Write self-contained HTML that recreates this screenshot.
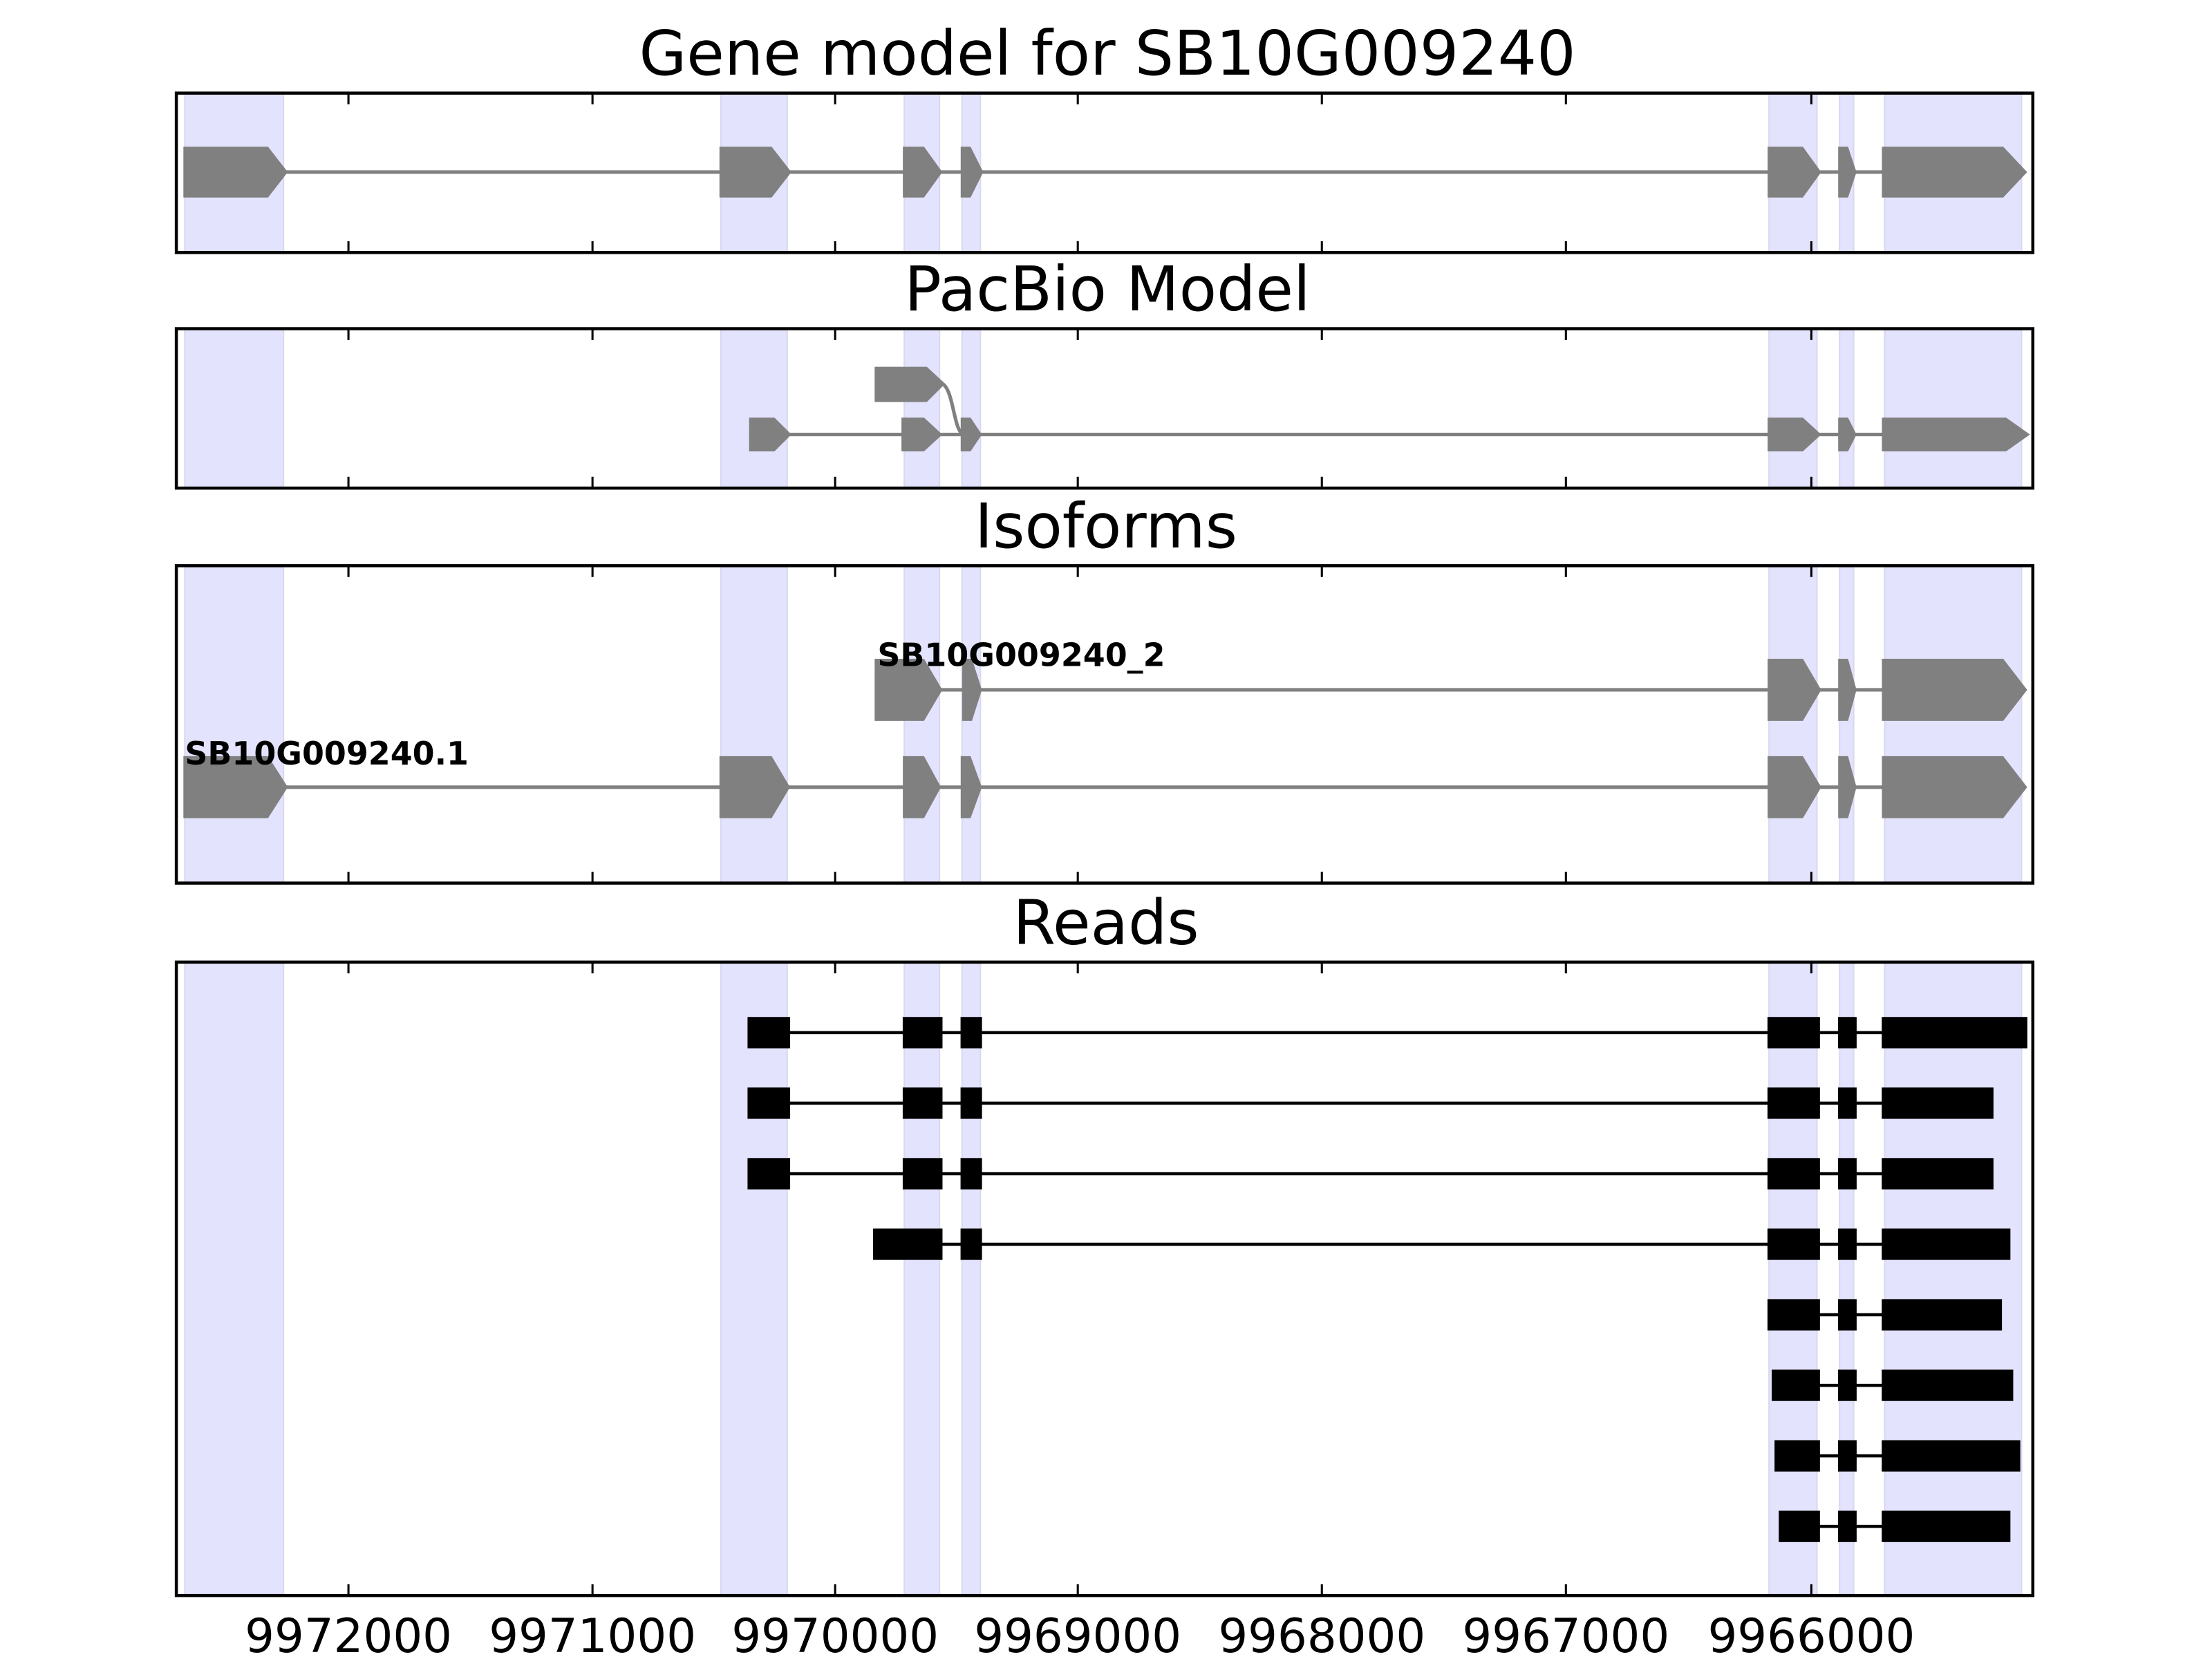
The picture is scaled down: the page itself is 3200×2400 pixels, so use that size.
<!DOCTYPE html>
<html><head><meta charset="utf-8"><style>html,body{margin:0;padding:0;background:#fff;overflow:hidden;width:3200px;height:2400px}svg{display:block}</style></head>
<body>
<svg width="3200" height="2400" viewBox="0 0 1568 1176" xmlns="http://www.w3.org/2000/svg" font-family="'DejaVu Sans','Liberation Sans',sans-serif">
<defs>
<g id="bands">
<rect x="131" width="70" height="1000" fill="#e3e3fd" stroke="#d8d8f0" stroke-width="1"/>
<rect x="511" width="47" height="1000" fill="#e3e3fd" stroke="#d8d8f0" stroke-width="1"/>
<rect x="641" width="25" height="1000" fill="#e3e3fd" stroke="#d8d8f0" stroke-width="1"/>
<rect x="682" width="13" height="1000" fill="#e3e3fd" stroke="#d8d8f0" stroke-width="1"/>
<rect x="1254" width="34" height="1000" fill="#e3e3fd" stroke="#d8d8f0" stroke-width="1"/>
<rect x="1304" width="10" height="1000" fill="#e3e3fd" stroke="#d8d8f0" stroke-width="1"/>
<rect x="1336" width="97" height="1000" fill="#e3e3fd" stroke="#d8d8f0" stroke-width="1"/>
</g>
<clipPath id="c1"><rect x="125" y="66" width="1316" height="113"/></clipPath>
<clipPath id="c2"><rect x="125" y="233" width="1316" height="113"/></clipPath>
<clipPath id="c3"><rect x="125" y="401" width="1316" height="225"/></clipPath>
<clipPath id="c4"><rect x="125" y="682" width="1316" height="449"/></clipPath>
</defs>
<g font-size="43.5" text-anchor="middle">
<text x="785" y="53">Gene model for SB10G009240</text>
<text x="785" y="220">PacBio Model</text>
<text x="784" y="388">Isoforms</text>
<text x="784" y="669">Reads</text>
</g>
<g clip-path="url(#c1)"><use href="#bands" y="60"/></g>
<g clip-path="url(#c2)"><use href="#bands" y="220"/></g>
<g clip-path="url(#c3)"><use href="#bands" y="390"/></g>
<g clip-path="url(#c4)"><use href="#bands" y="670"/></g>

<g fill="#808080" stroke="none">
<line x1="200" y1="122" x2="1340" y2="122" stroke="#808080" stroke-width="2.5"/>
<polygon points="130,104 190,104 204,122 190,140 130,140"/>
<polygon points="510,104 547,104 561,122 547,140 510,140"/>
<polygon points="640,104 655,104 668,122 655,140 640,140"/>
<polygon points="681,104 688,104 697,122 688,140 681,140"/>
<polygon points="1253,104 1278,104 1291,122 1278,140 1253,140"/>
<polygon points="1303,104 1310,104 1316,122 1310,140 1303,140"/>
<polygon points="1334,104 1420,104 1437,122 1420,140 1334,140"/>
</g>
<g fill="#808080">
<line x1="558" y1="308" x2="1340" y2="308" stroke="#808080" stroke-width="2.5"/>
<path d="M668,272 C676,276 676,306 683,308" fill="none" stroke="#808080" stroke-width="2.5"/>
<polygon points="620,260 657,260 670,272 657,285 620,285"/>
<polygon points="531,296 549,296 561,308 549,320 531,320"/>
<polygon points="639,296 655,296 668,308 655,320 639,320"/>
<polygon points="681,296 688,296 696,308 688,320 681,320"/>
<polygon points="1253,296 1278,296 1291,308 1278,320 1253,320"/>
<polygon points="1303,296 1310,296 1316,308 1310,320 1303,320"/>
<polygon points="1334,296 1422,296 1439,308 1422,320 1334,320"/>
</g>
<g fill="#808080">
<line x1="660" y1="489" x2="1340" y2="489" stroke="#808080" stroke-width="2.5"/>
<polygon points="620,467 655,467 668,489 655,511 620,511"/>
<polygon points="682,467 689,467 696,489 689,511 682,511"/>
<polygon points="1253,467 1278,467 1291,489 1278,511 1253,511"/>
<polygon points="1303,467 1310,467 1316,489 1310,511 1303,511"/>
<polygon points="1334,467 1420,467 1437,489 1420,511 1334,511"/>
<line x1="200" y1="558" x2="1340" y2="558" stroke="#808080" stroke-width="2.5"/>
<polygon points="130,536 190,536 204,558 190,580 130,580"/>
<polygon points="510,536 547,536 560,558 547,580 510,580"/>
<polygon points="640,536 655,536 667,558 655,580 640,580"/>
<polygon points="681,536 688,536 696,558 688,580 681,580"/>
<polygon points="1253,536 1278,536 1291,558 1278,580 1253,580"/>
<polygon points="1303,536 1310,536 1316,558 1310,580 1303,580"/>
<polygon points="1334,536 1420,536 1437,558 1420,580 1334,580"/>
</g>
<g font-size="22.5" font-weight="bold">
<text x="622" y="472">SB10G009240_2</text>
<text x="131" y="542">SB10G009240.1</text>
</g>
<g fill="#000" stroke="#000" stroke-width="2.2">
<g transform="translate(0,732)"><line x1="545" y1="0" x2="1340" y2="0"/><rect x="531" y="-10" width="28" height="20"/><rect x="641" y="-10" width="26" height="20"/><rect x="682" y="-10" width="13" height="20"/><rect x="1254" y="-10" width="35" height="20"/><rect x="1304" y="-10" width="11" height="20"/><rect x="1335" y="-10" width="101" height="20"/></g>
<g transform="translate(0,782)"><line x1="545" y1="0" x2="1340" y2="0"/><rect x="531" y="-10" width="28" height="20"/><rect x="641" y="-10" width="26" height="20"/><rect x="682" y="-10" width="13" height="20"/><rect x="1254" y="-10" width="35" height="20"/><rect x="1304" y="-10" width="11" height="20"/><rect x="1335" y="-10" width="77" height="20"/></g>
<g transform="translate(0,832)"><line x1="545" y1="0" x2="1340" y2="0"/><rect x="531" y="-10" width="28" height="20"/><rect x="641" y="-10" width="26" height="20"/><rect x="682" y="-10" width="13" height="20"/><rect x="1254" y="-10" width="35" height="20"/><rect x="1304" y="-10" width="11" height="20"/><rect x="1335" y="-10" width="77" height="20"/></g>
<g transform="translate(0,882)"><line x1="640" y1="0" x2="1340" y2="0"/><rect x="620" y="-10" width="47" height="20"/><rect x="682" y="-10" width="13" height="20"/><rect x="1254" y="-10" width="35" height="20"/><rect x="1304" y="-10" width="11" height="20"/><rect x="1335" y="-10" width="89" height="20"/></g>
<g transform="translate(0,932)"><line x1="1260" y1="0" x2="1340" y2="0"/><rect x="1254" y="-10" width="35" height="20"/><rect x="1304" y="-10" width="11" height="20"/><rect x="1335" y="-10" width="83" height="20"/></g>
<g transform="translate(0,982)"><line x1="1260" y1="0" x2="1340" y2="0"/><rect x="1257" y="-10" width="32" height="20"/><rect x="1304" y="-10" width="11" height="20"/><rect x="1335" y="-10" width="91" height="20"/></g>
<g transform="translate(0,1032)"><line x1="1260" y1="0" x2="1340" y2="0"/><rect x="1259" y="-10" width="30" height="20"/><rect x="1304" y="-10" width="11" height="20"/><rect x="1335" y="-10" width="96" height="20"/></g>
<g transform="translate(0,1082)"><line x1="1265" y1="0" x2="1340" y2="0"/><rect x="1262" y="-10" width="27" height="20"/><rect x="1304" y="-10" width="11" height="20"/><rect x="1335" y="-10" width="89" height="20"/></g>
</g>
<g fill="none" stroke="#000" stroke-width="2.2">
<rect x="125" y="66" width="1316" height="113"/>
<rect x="125" y="233" width="1316" height="113"/>
<rect x="125" y="401" width="1316" height="225"/>
<rect x="125" y="682" width="1316" height="449"/>
</g>
<g stroke="#000" stroke-width="1.5">
<path d="M247,66v8M420,66v8M592,66v8M764,66v8M937,66v8M1110,66v8M1284,66v8
M247,179v-8M420,179v-8M592,179v-8M764,179v-8M937,179v-8M1110,179v-8M1284,179v-8
M247,233v8M420,233v8M592,233v8M764,233v8M937,233v8M1110,233v8M1284,233v8
M247,346v-8M420,346v-8M592,346v-8M764,346v-8M937,346v-8M1110,346v-8M1284,346v-8
M247,401v8M420,401v8M592,401v8M764,401v8M937,401v8M1110,401v8M1284,401v8
M247,626v-8M420,626v-8M592,626v-8M764,626v-8M937,626v-8M1110,626v-8M1284,626v-8
M247,682v8M420,682v8M592,682v8M764,682v8M937,682v8M1110,682v8M1284,682v8
M247,1131v-8M420,1131v-8M592,1131v-8M764,1131v-8M937,1131v-8M1110,1131v-8M1284,1131v-8"/>
</g>
<g font-size="33" text-anchor="middle">
<text x="247" y="1171">9972000</text>
<text x="420" y="1171">9971000</text>
<text x="592" y="1171">9970000</text>
<text x="764" y="1171">9969000</text>
<text x="937" y="1171">9968000</text>
<text x="1110" y="1171">9967000</text>
<text x="1284" y="1171">9966000</text>
</g>
</svg>
</body></html>
